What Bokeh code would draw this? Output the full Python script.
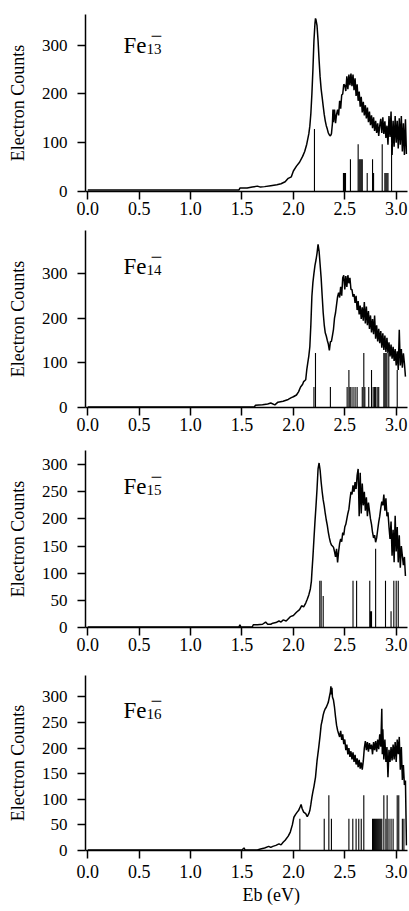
from bokeh.plotting import figure
from bokeh.layouts import column
from bokeh.models import FixedTicker, Label, Range1d, PrintfTickFormatter, Title
from bokeh.embed import file_html
from bokeh.resources import INLINE

FONT = "Liberation Serif"
X_TICKS = [0.0, 0.5, 1.0, 1.5, 2.0, 2.5, 3.0]
Y_TICKS_A = [0, 100, 200, 300]
Y_TICKS_B = [0, 50, 100, 150, 200, 250, 300]
CLUSTERS = ["13", "14", "15", "16"]
Y_LABEL = "Electron Counts"
X_LABEL = "Eb (eV)"

# ---------------- Fe13- spectrum ----------------
e13 = [0.00, 0.50, 1.00, 1.47, 1.48, 1.55, 1.60, 1.65, 1.68, 1.72, 1.78, 1.84, 1.88, 1.92, 1.95, 1.98,
       2.00, 2.03, 2.06, 2.09, 2.11, 2.13, 2.15, 2.16, 2.17, 2.18, 2.19, 2.20, 2.21, 2.215, 2.22, 2.23,
       2.24, 2.25, 2.26, 2.27, 2.28, 2.29, 2.30, 2.31, 2.32, 2.33, 2.34, 2.35, 2.36, 2.37, 2.38, 2.385,
       2.39, 2.40, 2.41, 2.42, 2.43, 2.44, 2.45, 2.46, 2.47, 2.48, 2.49, 2.50, 2.51, 2.52, 2.53, 2.54,
       2.55, 2.56, 2.57, 2.58, 2.59, 2.60, 2.61, 2.62, 2.63, 2.64, 2.65, 2.66, 2.67, 2.68, 2.69, 2.70,
       2.71, 2.72, 2.73, 2.74, 2.75, 2.76, 2.77, 2.78, 2.79, 2.80, 2.81, 2.82, 2.83, 2.84, 2.85, 2.86,
       2.87, 2.88, 2.89, 2.90, 2.91, 2.92, 2.93, 2.94, 2.95, 2.96, 2.97, 2.98, 2.99, 3.00, 3.01, 3.02,
       3.03, 3.04, 3.05, 3.06, 3.07, 3.08, 3.09, 3.10]
c13 = [3, 3, 3, 3, 7, 7, 9, 11, 9, 10, 12, 14, 16, 20, 27, 30,
       42, 52, 60, 72, 82, 97, 118, 134, 160, 200, 250, 309, 345, 355, 352, 340,
       310, 270, 235, 210, 193, 175, 158, 145, 135, 128, 120, 116, 114, 118, 140, 168,
       142, 168, 140, 158, 168, 156, 186, 170, 198, 200, 220, 218, 206, 236, 210, 240,
       218, 242, 216, 240, 208, 232, 196, 220, 186, 205, 174, 194, 162, 184, 156, 177,
       150, 172, 142, 164, 136, 156, 130, 152, 124, 145, 120, 140, 114, 135, 149, 120,
       152, 118, 144, 110, 135, 96, 155, 112, 164, 75, 145, 92, 155, 100, 145, 88,
       150, 96, 155, 82, 140, 75, 148, 77]
s13_e = [2.205, 2.487, 2.497, 2.507, 2.555, 2.63, 2.64, 2.65, 2.66, 2.67, 2.718, 2.77, 2.78,
         2.864, 2.89, 2.90, 2.91, 2.92, 2.955]
s13_h = [128, 38, 38, 38, 66, 97, 66, 66, 66, 66, 38, 66, 38,
         97, 38, 38, 38, 38, 97]

# ---------------- Fe14- spectrum ----------------
e14 = [0.00, 0.50, 1.00, 1.62, 1.63, 1.70, 1.75, 1.78, 1.82, 1.85, 1.90, 1.95, 1.98, 2.00, 2.03, 2.05,
       2.07, 2.09, 2.10, 2.12, 2.13, 2.14, 2.15, 2.16, 2.17, 2.18, 2.19, 2.20, 2.21, 2.22, 2.23, 2.24,
       2.25, 2.26, 2.27, 2.28, 2.29, 2.30, 2.31, 2.32, 2.33, 2.34, 2.35, 2.36, 2.37, 2.38, 2.39, 2.40,
       2.41, 2.42, 2.43, 2.44, 2.45, 2.46, 2.47, 2.48, 2.49, 2.50, 2.51, 2.52, 2.53, 2.54, 2.55, 2.56,
       2.57, 2.58, 2.59, 2.60, 2.61, 2.62, 2.63, 2.64, 2.65, 2.66, 2.67, 2.68, 2.69, 2.70, 2.71, 2.72,
       2.73, 2.74, 2.75, 2.76, 2.77, 2.78, 2.79, 2.80, 2.81, 2.82, 2.83, 2.84, 2.85, 2.86, 2.87, 2.88,
       2.89, 2.90, 2.91, 2.92, 2.93, 2.94, 2.95, 2.96, 2.97, 2.98, 2.99, 3.00, 3.01, 3.02, 3.03, 3.04,
       3.05, 3.06, 3.07, 3.08, 3.09]
c14 = [1, 1, 1, 1, 5, 6, 8, 10, 6, 12, 14, 18, 22, 24, 28, 35,
       46, 52, 58, 62, 84, 100, 115, 136, 185, 249, 280, 300, 318, 330, 345, 365,
       350, 320, 290, 250, 212, 185, 167, 160, 150, 142, 128, 147, 148, 161, 175, 200,
       212, 230, 248, 257, 246, 270, 250, 290, 296, 264, 294, 270, 296, 278, 290, 264,
       264, 248, 254, 234, 250, 218, 238, 208, 228, 198, 224, 194, 236, 188, 226, 184,
       216, 176, 206, 168, 198, 164, 206, 154, 184, 148, 176, 144, 171, 134, 166, 129,
       161, 124, 156, 122, 146, 114, 141, 109, 136, 104, 131, 94, 126, 84, 174, 94,
       131, 89, 121, 99, 69]
s14_e = [2.20, 2.215, 2.36, 2.523, 2.54, 2.55, 2.56, 2.58, 2.60, 2.62, 2.67, 2.685, 2.695,
         2.733, 2.76, 2.776, 2.79, 2.80, 2.815, 2.83, 2.88, 2.89, 2.90, 2.91, 2.928, 3.01]
s14_h = [46, 122, 46, 46, 84, 46, 46, 46, 46, 46, 46, 122, 46,
         46, 84, 46, 46, 46, 46, 46, 122, 122, 122, 122, 122, 84]

# ---------------- Fe15- spectrum ----------------
e15 = [0.00, 0.50, 1.00, 1.45, 1.47, 1.48, 1.49, 1.60, 1.61, 1.65, 1.70, 1.73, 1.75, 1.78, 1.80, 1.83,
       1.86, 1.88, 1.90, 1.93, 1.97, 2.00, 2.03, 2.06, 2.08, 2.10, 2.12, 2.135, 2.15, 2.165, 2.175, 2.18,
       2.19, 2.20, 2.21, 2.22, 2.23, 2.24, 2.25, 2.26, 2.27, 2.28, 2.29, 2.30, 2.31, 2.32, 2.33, 2.34,
       2.35, 2.36, 2.37, 2.38, 2.39, 2.40, 2.41, 2.42, 2.43, 2.44, 2.45, 2.46, 2.47, 2.48, 2.49, 2.50,
       2.51, 2.52, 2.53, 2.54, 2.55, 2.56, 2.57, 2.58, 2.59, 2.60, 2.61, 2.62, 2.63, 2.64, 2.65, 2.66,
       2.67, 2.68, 2.69, 2.70, 2.71, 2.72, 2.73, 2.74, 2.75, 2.76, 2.77, 2.78, 2.79, 2.80, 2.81, 2.82,
       2.83, 2.84, 2.85, 2.86, 2.87, 2.88, 2.89, 2.90, 2.91, 2.92, 2.93, 2.94, 2.95, 2.96, 2.97, 2.98,
       2.99, 3.00, 3.01, 3.02, 3.03, 3.04, 3.05, 3.06, 3.07, 3.08, 3.09]
c15 = [1, 1, 1, 1, 1, 5, 1, 1, 5, 5, 6, 10, 6, 6, 8, 9,
       12, 10, 14, 12, 20, 22, 28, 33, 40, 38, 45, 52, 60, 71, 85, 101,
       130, 163, 195, 224, 255, 292, 303, 290, 268, 250, 235, 224, 210, 198, 188, 175,
       165, 157, 152, 150, 148, 140, 130, 145, 120, 140, 155, 163, 158, 175, 170, 185,
       190, 200, 210, 218, 235, 250, 245, 262, 250, 268, 255, 280, 292, 205, 285, 210,
       265, 225, 250, 215, 240, 205, 230, 215, 200, 190, 175, 165, 170, 157, 165, 180,
       194, 205, 220, 232, 225, 245, 215, 238, 205, 212, 185, 163, 195, 132, 180, 120,
       206, 140, 185, 120, 170, 110, 150, 132, 115, 130, 95]
s15_e = [2.257, 2.27, 2.29, 2.58, 2.615, 2.743, 2.75, 2.76, 2.80, 2.896, 2.95, 2.977, 3.00, 3.02]
s15_h = [86, 86, 58, 86, 86, 86, 30, 30, 145, 86, 30, 86, 86, 86]

# ---------------- Fe16- spectrum ----------------
e16 = [0.00, 0.50, 1.00, 1.50, 1.52, 1.53, 1.65, 1.68, 1.72, 1.76, 1.78, 1.80, 1.83, 1.86, 1.88, 1.90,
       1.92, 1.95, 1.97, 1.99, 2.005, 2.02, 2.037, 2.05, 2.065, 2.075, 2.085, 2.10, 2.12, 2.135, 2.15, 2.16,
       2.17, 2.18, 2.19, 2.20, 2.215, 2.23, 2.247, 2.26, 2.27, 2.28, 2.29, 2.30, 2.31, 2.32, 2.33, 2.34,
       2.35, 2.36, 2.365, 2.37, 2.375, 2.38, 2.39, 2.40, 2.41, 2.42, 2.43, 2.44, 2.45, 2.46, 2.47, 2.48,
       2.49, 2.50, 2.51, 2.52, 2.53, 2.54, 2.55, 2.56, 2.57, 2.58, 2.59, 2.60, 2.61, 2.62, 2.63, 2.64,
       2.65, 2.66, 2.67, 2.68, 2.69, 2.70, 2.71, 2.72, 2.73, 2.74, 2.75, 2.76, 2.77, 2.78, 2.79, 2.80,
       2.81, 2.82, 2.83, 2.84, 2.85, 2.86, 2.865, 2.87, 2.88, 2.89, 2.90, 2.91, 2.92, 2.93, 2.94, 2.95,
       2.96, 2.97, 2.98, 2.99, 3.00, 3.01, 3.02, 3.03, 3.04, 3.05, 3.06, 3.07, 3.08, 3.09, 3.10]
c16 = [1, 1, 1, 1, 5, 1, 1, 3, 5, 8, 6, 8, 10, 13, 11, 16,
       20, 28, 36, 50, 65, 70, 75, 78, 85, 90, 82, 75, 72, 66, 72, 78,
       90, 104, 115, 125, 143, 175, 202, 225, 245, 254, 265, 272, 277, 280, 285, 290,
       300, 310, 321, 305, 318, 300, 294, 280, 261, 245, 235, 228, 222, 234, 216, 227,
       208, 217, 196, 207, 188, 200, 183, 194, 178, 192, 173, 187, 168, 180, 163, 177,
       160, 172, 158, 175, 200, 214, 196, 212, 193, 210, 198, 207, 188, 212, 196, 214,
       193, 217, 198, 227, 203, 277, 188, 237, 178, 217, 173, 202, 143, 197, 173, 202,
       176, 207, 178, 212, 173, 217, 188, 222, 158, 202, 138, 167, 128, 137, 10]
s16_e = [2.063, 2.30, 2.345, 2.37, 2.54, 2.578, 2.61, 2.636, 2.66, 2.685, 2.77, 2.78, 2.79, 2.80,
         2.81, 2.82, 2.83, 2.84, 2.85, 2.86, 2.88, 2.90, 2.912, 2.93, 2.95, 2.97, 3.01, 3.025,
         3.06, 3.075]
s16_h = [62, 62, 108, 62, 62, 62, 62, 62, 62, 108, 62, 62, 62, 62,
         62, 62, 62, 62, 62, 62, 108, 62, 108, 62, 62, 62, 108, 108,
         62, 62]

SPECTRA = [(e13, c13, s13_e, s13_h), (e14, c14, s14_e, s14_h),
           (e15, c15, s15_e, s15_h), (e16, c16, s16_e, s16_h)]

X0, X1 = -0.022, 3.11
FRAME_W = 322
BORDER_L = 85


def x_at(px):
    # page pixel column -> eV
    return X0 + (px - BORDER_L) * (X1 - X0) / FRAME_W


def make_panel(i, y_end, yticks, frame_h, b_top, b_bottom, fe_dy, x_standoff=2, last=False):
    e, c, se, sh = SPECTRA[i]
    p = figure(width=BORDER_L + FRAME_W + 2, height=b_top + frame_h + b_bottom,
               min_border_left=BORDER_L, min_border_right=2,
               min_border_top=b_top, min_border_bottom=b_bottom,
               x_range=Range1d(X0, X1), y_range=Range1d(0, y_end),
               output_backend="svg", toolbar_location=None, tools="")
    p.outline_line_color = None
    p.xgrid.visible = False
    p.ygrid.visible = False
    p.background_fill_color = "white"
    p.border_fill_color = "white"

    p.segment(x0=se, y0=[0] * len(se), x1=se, y1=sh, line_color="black", line_width=1.1)
    p.line(e, c, line_color="black", line_width=1.5)

    for ax in (p.xaxis[0], p.yaxis[0]):
        ax.axis_line_color = "black"
        ax.axis_line_width = 1.5
        ax.major_tick_line_color = "black"
        ax.major_tick_line_width = 1.5
        ax.major_tick_out = 8
        ax.major_tick_in = 0
        ax.minor_tick_line_color = None
        ax.major_label_text_font = FONT
        ax.major_label_text_color = "black"

    p.xaxis.ticker = FixedTicker(ticks=X_TICKS, minor_ticks=[])
    p.xaxis.formatter = PrintfTickFormatter(format="%.1f")
    p.xaxis.major_label_standoff = x_standoff
    p.xaxis.major_label_text_font_size = "18px"
    p.yaxis.ticker = FixedTicker(ticks=yticks, minor_ticks=[])
    p.yaxis.major_label_standoff = 10
    p.yaxis.major_label_text_font_size = "17px"
    p.yaxis.axis_label = Y_LABEL
    p.yaxis.axis_label_text_font = FONT
    p.yaxis.axis_label_text_font_size = "18px"
    p.yaxis.axis_label_text_font_style = "normal"
    p.yaxis.axis_label_text_color = "black"
    p.yaxis.axis_label_standoff = 11

    k = frame_h / y_end

    def y_at(dy):
        return y_end - dy / k

    fe_x = 123
    p.add_layout(Label(x=x_at(fe_x), y=y_at(fe_dy), text="Fe", text_font=FONT,
                       text_font_size="23px", text_color="black", text_baseline="alphabetic"))
    p.add_layout(Label(x=x_at(fe_x + 23), y=y_at(fe_dy + 3), text=CLUSTERS[i], text_font=FONT,
                       text_font_size="15px", text_color="black", text_baseline="alphabetic"))
    p.add_layout(Label(x=x_at(fe_x + 27), y=y_at(fe_dy - 10), text="\u2212", text_font=FONT,
                       text_font_size="21px", text_color="black", text_baseline="alphabetic"))
    if last:
        p.add_layout(Title(text=X_LABEL, align="left", offset=157, standoff=5,
                           text_font=FONT, text_font_size="18px", text_font_style="normal",
                           text_color="black"), "below")
    return p


p1 = make_panel(0, 363, Y_TICKS_A, 177, 14, 33, 31)
p2 = make_panel(1, 396, Y_TICKS_A, 177, 6, 37, 36)
p3 = make_panel(2, 326, Y_TICKS_B, 177, 6, 42, 36)
p4 = make_panel(3, 342, Y_TICKS_B, 175, 6, 61, 35, x_standoff=6, last=True)

layout = column(p1, p2, p3, p4, spacing=0)
open("out.html", "w").write(file_html(layout, INLINE))
